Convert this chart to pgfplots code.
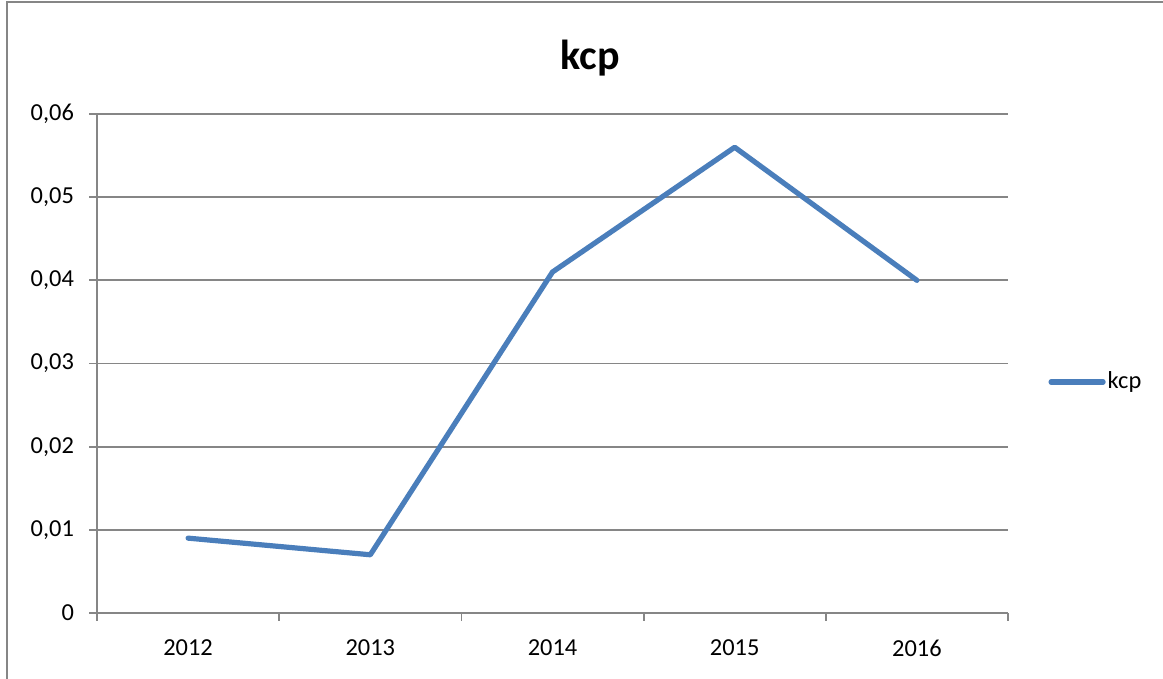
\documentclass[border=0pt]{standalone}
\usepackage{fontspec}
\setmainfont{Carlito}
\usepackage{pgfplots}
\pgfplotsset{compat=1.18}
\definecolor{gridgray}{HTML}{868686}
\definecolor{kcpblue}{HTML}{4A7EBB}
\begin{document}
\begin{tikzpicture}
\useasboundingbox (0,0) rectangle (581.5pt,339.5pt);
\draw[gridgray, line width=0.9pt] (3.5pt,0pt) -- (3.5pt,338.5pt) -- (581.5pt,338.5pt);
\node[font=\fontsize{21}{24}\selectfont\bfseries, anchor=base] at (295pt,304.5pt) {kcp};
\begin{axis}[
  at={(48.5pt,33pt)}, anchor=south west,
  scale only axis, width=455.5pt, height=249.5pt,
  xmin=-0.5, xmax=4.5, ymin=0, ymax=0.06,
  axis x line*=bottom, axis y line*=left,
  axis line style={gridgray, line width=0.9pt, -},
  % tick marks sit between the categories, labels at the centres
  xtick={-0.5,0.5,1.5,2.5,3.5,4.5},
  xticklabels={},
  extra x ticks={0,1,2,3,4},
  extra x tick labels={2012,2013,2014,2015,2016},
  extra x tick style={major tick length=0pt, grid=none},
  ytick={0,0.01,0.02,0.03,0.04,0.05,0.06},
  yticklabels={0,{0,01},{0,02},{0,03},{0,04},{0,05},{0,06}},
  scaled y ticks=false,
  tick align=outside,
  major tick length=4pt,
  major tick style={gridgray, line width=0.9pt},
  ymajorgrids, grid style={gridgray, line width=0.9pt},
  /pgf/number format/assume math mode=true,
  ticklabel style={font=\fontsize{12.2}{14}\selectfont},
  yticklabel style={xshift=-4pt},
  xticklabel style={yshift=-10pt},
  legend style={draw=none, fill=none, at={(axis description cs:1.044,0.463)}, anchor=west,
    inner sep=0pt, font=\fontsize{12.2}{14}\selectfont, nodes={inner sep=1pt}},
  legend cell align=left,
  legend image code/.code={\draw[#1] (0pt,0pt) -- (26pt,0pt);},
  clip=false,
]
\addplot[kcpblue, line width=2.6pt, line cap=round, line join=round] coordinates {
  (0,0.009) (1,0.007) (2,0.041) (3,0.056) (4,0.040)
};
\legend{kcp}
\end{axis}
\end{tikzpicture}
\end{document}
